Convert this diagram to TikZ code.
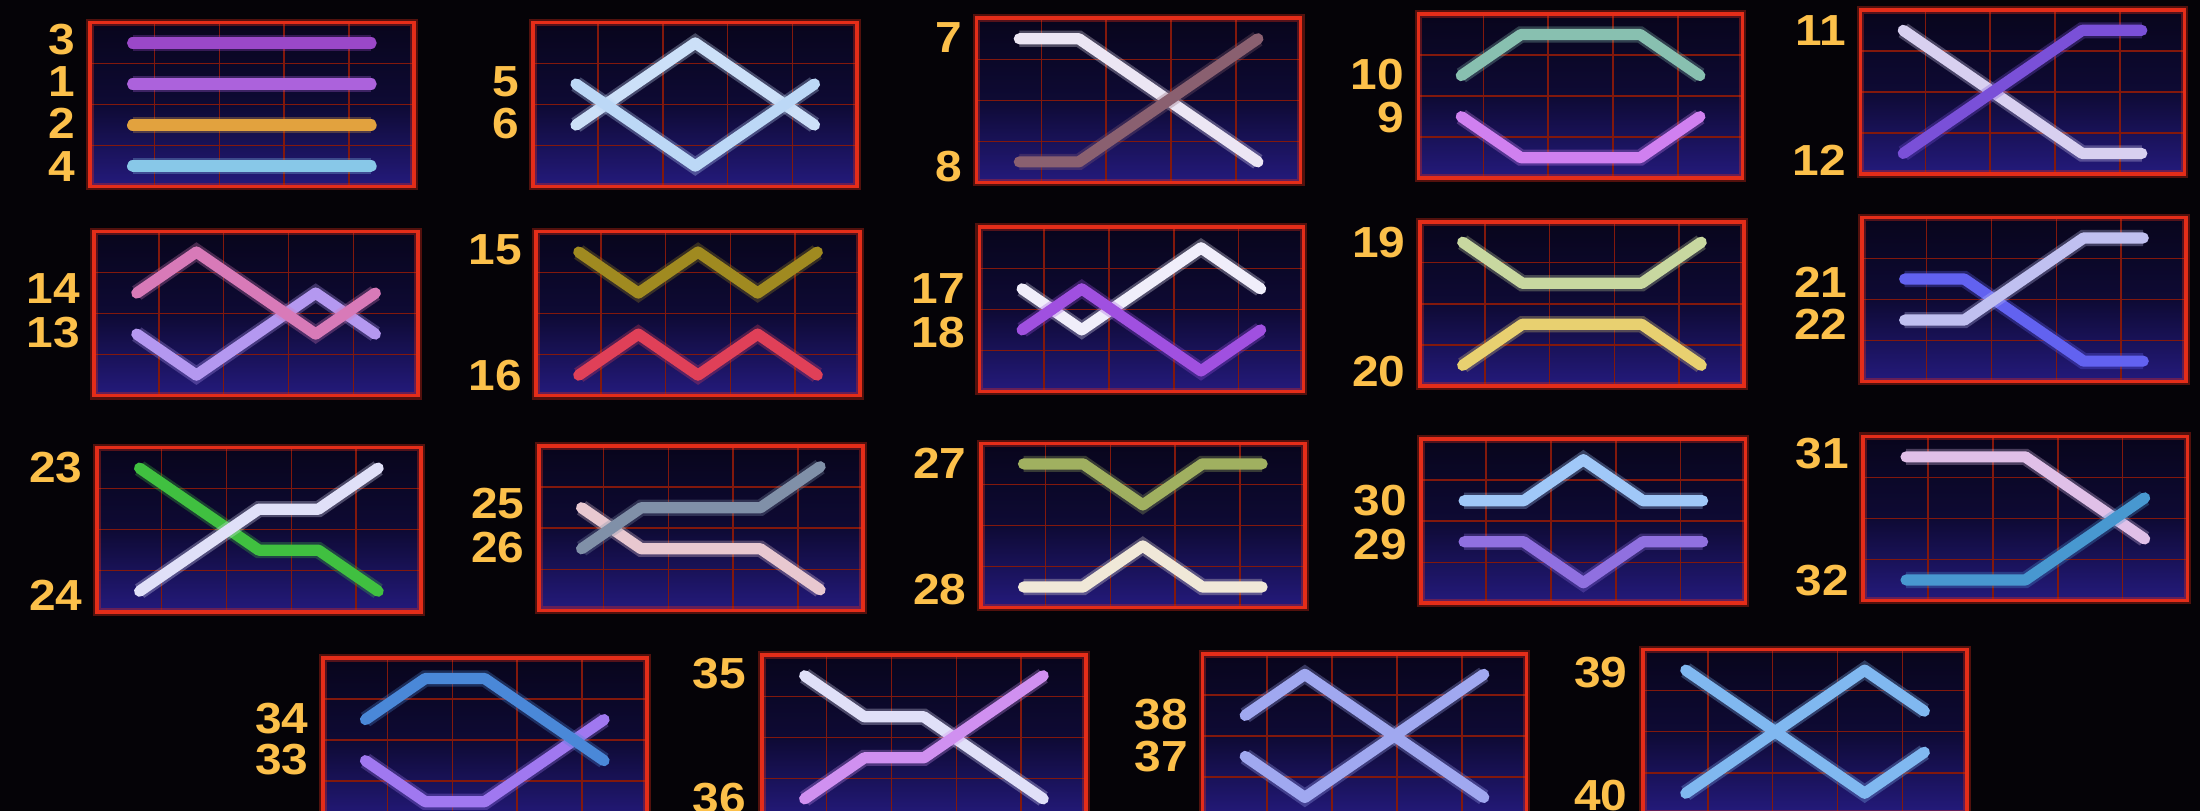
\documentclass[tikz,border=0pt]{standalone}
\usepackage{fontspec}
\setmainfont{Liberation Sans}
\definecolor{bgc}{RGB}{5,3,7}
\definecolor{boxtop}{RGB}{8,5,28}
\definecolor{boxmid}{RGB}{14,10,52}
\definecolor{boxbot}{RGB}{36,26,124}
\definecolor{gridred}{RGB}{130,24,12}
\definecolor{boxred}{RGB}{228,45,25}
\definecolor{lblc}{RGB}{252,192,74}
\definecolor{c1}{HTML}{AC62DC}
\definecolor{c2}{HTML}{E2A23E}
\definecolor{c3}{HTML}{9A48C8}
\definecolor{c4}{HTML}{88C8E8}
\definecolor{c5}{HTML}{BCD8F6}
\definecolor{c6}{HTML}{CCE0F8}
\definecolor{c7}{HTML}{ECE6F4}
\definecolor{c8}{HTML}{8A6070}
\definecolor{c9}{HTML}{D080F0}
\definecolor{c10}{HTML}{88C0B0}
\definecolor{c11}{HTML}{D8D0F0}
\definecolor{c12}{HTML}{7A50D8}
\definecolor{c13}{HTML}{B498F0}
\definecolor{c14}{HTML}{D87AB8}
\definecolor{c15}{HTML}{A08A20}
\definecolor{c16}{HTML}{E04058}
\definecolor{c17}{HTML}{F0EEFA}
\definecolor{c18}{HTML}{A050E0}
\definecolor{c19}{HTML}{C8D8A0}
\definecolor{c20}{HTML}{E8D070}
\definecolor{c21}{HTML}{6262F0}
\definecolor{c22}{HTML}{C0C0F0}
\definecolor{c23}{HTML}{40C040}
\definecolor{c24}{HTML}{E0E0F8}
\definecolor{c25}{HTML}{E8C8D0}
\definecolor{c26}{HTML}{8090A8}
\definecolor{c27}{HTML}{A0B060}
\definecolor{c28}{HTML}{F0E8D8}
\definecolor{c29}{HTML}{9070E0}
\definecolor{c30}{HTML}{A0C8F8}
\definecolor{c31}{HTML}{E0C0E8}
\definecolor{c32}{HTML}{4898D0}
\definecolor{c33}{HTML}{A078F0}
\definecolor{c34}{HTML}{4A88D8}
\definecolor{c35}{HTML}{E0E0F8}
\definecolor{c36}{HTML}{D090F0}
\definecolor{c37}{HTML}{A0A8F0}
\definecolor{c38}{HTML}{A0A8F0}
\definecolor{c39}{HTML}{80B8F0}
\definecolor{c40}{HTML}{80B8F0}
\tikzset{
  paybox/.style={anchor=north west, minimum width=231pt, minimum height=117pt,
    inner sep=0pt, outer sep=0pt, top color=boxtop, bottom color=boxbot, middle color=boxmid},
  gridc/.style={draw=gridred, line width=1.1pt},
  border/.style={draw=boxred, line width=2.6pt,
    preaction={draw=boxred, line width=5.5pt, opacity=0.35}},
  pl/.style={draw=#1, line width=8pt, line cap=round, line join=round,
    preaction={draw=#1, line width=11.5pt, opacity=0.3}},
  lbl/.style={text=lblc, font=\fontsize{31}{31}\selectfont\bfseries, anchor=east,
    inner sep=0pt, xscale=1.1},
}
\newcommand{\pbox}[3]{%
  \node[paybox] (#1) at (#2,#3) {};
  \begin{scope}[shift={(#1.north west)}, x=46.2pt, y=-29.25pt]
    \foreach \i in {1,2,3,4} \draw[gridc] (\i,0) -- (\i,4);
    \foreach \j in {1,2,3} \draw[gridc] (0,\j) -- (5,\j);
  \end{scope}
  \draw[border] (#1.north west) rectangle (#1.south east);
}
\newcommand{\plines}[2]{%
  \begin{scope}[shift={(#1.center)}, x=42.5pt, y=-29.25pt, shift={(-2,-1.5)}]
  #2
  \end{scope}}
\begin{document}
\begin{tikzpicture}[x=1pt, y=-1pt]
\path[use as bounding box, fill=bgc] (0,0) rectangle (1568,578);
\clip (0,0) rectangle (1568,578);
% row 1
\pbox{A}{64}{16}
\pbox{B}{380}{16}
\pbox{C}{696}{13}
\pbox{D}{1011}{10}
\pbox{E}{1326}{7}
% row 2
\pbox{F}{67}{165}
\pbox{G}{382}{165}
\pbox{H}{698}{162}
\pbox{I}{1012}{158}
\pbox{J}{1327}{155}
% row 3
\pbox{K}{69}{319}
\pbox{L}{384}{318}
\pbox{M}{699}{316}
\pbox{N}{1013}{313}
\pbox{O}{1328}{311}
% row 4
\pbox{P}{230}{469}
\pbox{Q}{543}{467}
\pbox{R}{857}{466}
\pbox{S}{1171}{463}
% paylines
\plines{A}{
  \draw[pl=c3] (0,0) -- (4,0);
  \draw[pl=c1] (0,1) -- (4,1);
  \draw[pl=c2] (0,2) -- (4,2);
  \draw[pl=c4] (0,3) -- (4,3);}
\plines{B}{
  \draw[pl=c6] (0,2) -- (2,0) -- (4,2);
  \draw[pl=c5] (0,1) -- (2,3) -- (4,1);}
\plines{C}{
  \draw[pl=c7] (0,0) -- (1,0) -- (4,3);
  \draw[pl=c8] (0,3) -- (1,3) -- (4,0);}
\plines{D}{
  \draw[pl=c10] (0,1) -- (1,0) -- (3,0) -- (4,1);
  \draw[pl=c9] (0,2) -- (1,3) -- (3,3) -- (4,2);}
\plines{E}{
  \draw[pl=c11] (0,0) -- (3,3) -- (4,3);
  \draw[pl=c12] (0,3) -- (3,0) -- (4,0);}
\plines{F}{
  \draw[pl=c13] (0,2) -- (1,3) -- (3,1) -- (4,2);
  \draw[pl=c14] (0,1) -- (1,0) -- (3,2) -- (4,1);}
\plines{G}{
  \draw[pl=c15] (0,0) -- (1,1) -- (2,0) -- (3,1) -- (4,0);
  \draw[pl=c16] (0,3) -- (1,2) -- (2,3) -- (3,2) -- (4,3);}
\plines{H}{
  \draw[pl=c17] (0,1) -- (1,2) -- (3,0) -- (4,1);
  \draw[pl=c18] (0,2) -- (1,1) -- (3,3) -- (4,2);}
\plines{I}{
  \draw[pl=c19] (0,0) -- (1,1) -- (3,1) -- (4,0);
  \draw[pl=c20] (0,3) -- (1,2) -- (3,2) -- (4,3);}
\plines{J}{
  \draw[pl=c21] (0,1) -- (1,1) -- (3,3) -- (4,3);
  \draw[pl=c22] (0,2) -- (1,2) -- (3,0) -- (4,0);}
\plines{K}{
  \draw[pl=c23] (0,0) -- (2,2) -- (3,2) -- (4,3);
  \draw[pl=c24] (0,3) -- (2,1) -- (3,1) -- (4,0);}
\plines{L}{
  \draw[pl=c25] (0,1) -- (1,2) -- (3,2) -- (4,3);
  \draw[pl=c26] (0,2) -- (1,1) -- (3,1) -- (4,0);}
\plines{M}{
  \draw[pl=c27] (0,0) -- (1,0) -- (2,1) -- (3,0) -- (4,0);
  \draw[pl=c28] (0,3) -- (1,3) -- (2,2) -- (3,3) -- (4,3);}
\plines{N}{
  \draw[pl=c30] (0,1) -- (1,1) -- (2,0) -- (3,1) -- (4,1);
  \draw[pl=c29] (0,2) -- (1,2) -- (2,3) -- (3,2) -- (4,2);}
\plines{O}{
  \draw[pl=c31] (0,0) -- (2,0) -- (4,2);
  \draw[pl=c32] (0,3) -- (2,3) -- (4,1);}
\plines{P}{
  \draw[pl=c33] (0,2) -- (1,3) -- (2,3) -- (4,1);
  \draw[pl=c34] (0,1) -- (1,0) -- (2,0) -- (4,2);}
\plines{Q}{
  \draw[pl=c35] (0,0) -- (1,1) -- (2,1) -- (4,3);
  \draw[pl=c36] (0,3) -- (1,2) -- (2,2) -- (4,0);}
\plines{R}{
  \draw[pl=c38] (0,1) -- (1,0) -- (4,3);
  \draw[pl=c37] (0,2) -- (1,3) -- (4,0);}
\plines{S}{
  \draw[pl=c39] (0,0) -- (3,3) -- (4,2);
  \draw[pl=c40] (0,3) -- (3,0) -- (4,1);}
% labels
\node[lbl] (n3) at (54,28) {3};
\node[lbl] (n1) at (54,58) {1};
\node[lbl] (n2) at (54,88) {2};
\node[lbl] (n4) at (54,119) {4};
\node[lbl] (n5) at (370,58) {5};
\node[lbl] (n6) at (370,88) {6};
\node[lbl] (n7) at (686,27) {7};
\node[lbl] (n8) at (686,119) {8};
\node[lbl] (n10) at (1001,53) {10};
\node[lbl] (n9) at (1001,84) {9};
\node[lbl] (n11) at (1316,22) {11};
\node[lbl] (n12) at (1316,114) {12};
\node[lbl] (n14) at (57,206) {14};
\node[lbl] (n13) at (57,237) {13};
\node[lbl] (n15) at (372,178) {15};
\node[lbl] (n16) at (372,268) {16};
\node[lbl] (n17) at (688,206) {17};
\node[lbl] (n18) at (688,237) {18};
\node[lbl] (n19) at (1002,173) {19};
\node[lbl] (n20) at (1002,265) {20};
\node[lbl] (n21) at (1317,201) {21};
\node[lbl] (n22) at (1317,231) {22};
\node[lbl] (n23) at (59,333) {23};
\node[lbl] (n24) at (59,424) {24};
\node[lbl] (n25) at (374,359) {25};
\node[lbl] (n26) at (374,390) {26};
\node[lbl] (n27) at (689,330) {27};
\node[lbl] (n28) at (689,420) {28};
\node[lbl] (n30) at (1003,357) {30};
\node[lbl] (n29) at (1003,388) {29};
\node[lbl] (n31) at (1318,323) {31};
\node[lbl] (n32) at (1318,414) {32};
\node[lbl] (n34) at (220,512) {34};
\node[lbl] (n33) at (220,541) {33};
\node[lbl] (n35) at (532,480) {35};
\node[lbl] (n36) at (532,569) {36};
\node[lbl] (n38) at (847,509) {38};
\node[lbl] (n37) at (847,539) {37};
\node[lbl] (n39) at (1160,479) {39};
\node[lbl] (n40) at (1160,567) {40};
\end{tikzpicture}
\end{document}
